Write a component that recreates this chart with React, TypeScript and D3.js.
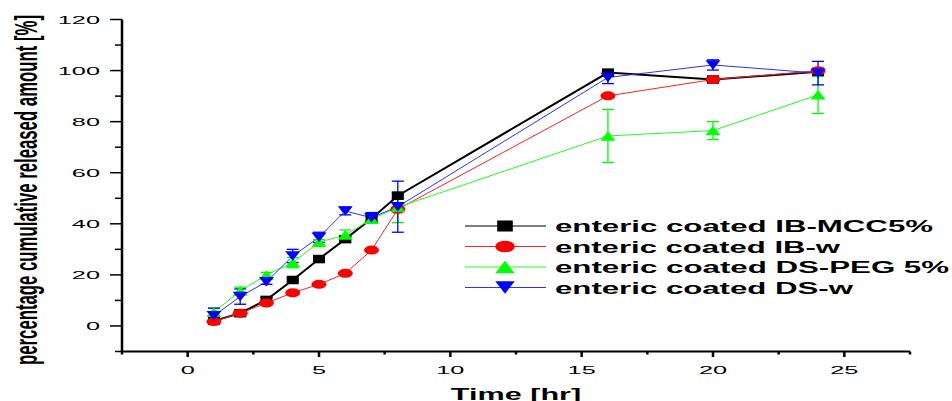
import React from "react";
import * as d3 from "d3";

const time = [1, 2, 3, 4, 5, 6, 7, 8, 16, 20, 24];
const ibMcc = [2, 5, 10.2, 18, 26.2, 34, 42.1, 51, 99.2, 96.5, 99.5];
const ibMccErr = [0.5, 0.5, 1, 0.5, 0.5, 1, 1, 1, 0.5, 0.5, 0.5];
const ibW = [1.7, 5, 9, 13, 16.3, 20.6, 29.7, 45.7, 90.1, 96.5, 99.9];
const ibWErr = [1, 1, 0.5, 0.3, 0.3, 0.3, 0.3, 1, 0.3, 0.5, 0.5];
const dsPeg = [5.4, 13.7, 20, 24.8, 32.8, 35.6, 41.8, 46.5, 74.4, 76.5, 90.5];
const dsPegErr = [1.5, 1.5, 1, 2, 1, 2, 1, 6, 10.4, 3.5, 7.3];
const dsW = [4, 11.5, 17.3, 27.4, 34.7, 45, 42.4, 46.7, 97.3, 102.2, 99];
const dsWErr = [3, 3, 1, 2.6, 2, 1.5, 2, 10, 2.4, 2, 4.6];

const seriesNames = [
  "enteric coated IB-MCC5%",
  "enteric coated IB-w",
  "enteric coated DS-PEG 5%",
  "enteric coated DS-w",
];
const xMajor = [0, 5, 10, 15, 20, 25];
const xMinor = [-2.5, 2.5, 7.5, 12.5, 17.5, 22.5, 27.5];
const yMajor = [0, 20, 40, 60, 80, 100, 120];
const yMinor = [-10, 10, 30, 50, 70, 90, 110];

const FONT = "'Liberation Sans', Arial, sans-serif";

type Shape = "square" | "circle" | "up" | "down";

const series = [
  { name: seriesNames[0], values: ibMcc, err: ibMccErr, color: "#000000", lineColor: "#000000", lw: 2, shape: "square" as Shape },
  { name: seriesNames[1], values: ibW, err: ibWErr, color: "#ff0000", lineColor: "#ff2020", lw: 1, shape: "circle" as Shape },
  { name: seriesNames[2], values: dsPeg, err: dsPegErr, color: "#00ff00", lineColor: "#20ff20", lw: 1, shape: "up" as Shape },
  { name: seriesNames[3], values: dsW, err: dsWErr, color: "#0000ff", lineColor: "#3030ff", lw: 1, shape: "down" as Shape },
];

function Marker({ shape, cx, cy, color, big }: { shape: Shape; cx: number; cy: number; color: string; big?: boolean }) {
  const k = big ? 1.3 : 1;
  if (shape === "square") {
    const w = 12 * k, h = 8.5 * k;
    return <rect x={cx - w / 2} y={cy - h / 2} width={w} height={h} fill={color} />;
  }
  if (shape === "circle") {
    return <ellipse cx={cx} cy={cy} rx={7.5 * k} ry={4.5 * k} fill={color} />;
  }
  const w = 15 * k, h = 9.5 * k;
  if (shape === "up") {
    return <path d={`M${cx - w / 2},${cy + h / 2}L${cx + w / 2},${cy + h / 2}L${cx},${cy - h / 2}Z`} fill={color} />;
  }
  return <path d={`M${cx - w / 2},${cy - h / 2}L${cx + w / 2},${cy - h / 2}L${cx},${cy + h / 2}Z`} fill={color} />;
}

export default function App() {
  const x = d3.scaleLinear().domain([-2.5, 27.5]).range([122, 910]);
  const y = d3.scaleLinear().domain([-10, 120]).range([351.5, 19.5]);
  const line = d3
    .line<number>()
    .x((_, i) => x(time[i]))
    .y((d) => y(d));

  const tickScale = 2.2;
  const legendX = 465;
  const legendY = [226, 246.5, 267, 287.5];
  const legendLens = [378, 285, 394, 298];

  return (
    <svg width={952} height={401} style={{ position: "absolute", left: 0, top: 0, background: "#fff" }}>
      <rect width={952} height={401} fill="#fff" />
      {/* series lines */}
      {series.map((s) => (
        <path key={s.name + "l"} d={line(s.values) || ""} fill="none" stroke={s.lineColor} strokeWidth={s.lw} />
      ))}
      {/* error bars */}
      {series.map((s) =>
        s.values.map((v, i) => {
          const cx = x(time[i]);
          const y1 = y(v + s.err[i]);
          const y2 = y(v - s.err[i]);
          return (
            <g key={s.name + "e" + i} stroke={s.color} strokeWidth={1.3}>
              <line x1={cx} x2={cx} y1={y1} y2={y2} />
              <line x1={cx - 6} x2={cx + 6} y1={y1} y2={y1} />
              <line x1={cx - 6} x2={cx + 6} y1={y2} y2={y2} />
            </g>
          );
        })
      )}
      {/* markers */}
      {series.map((s) =>
        s.values.map((v, i) => (
          <Marker key={s.name + "m" + i} shape={s.shape} cx={x(time[i])} cy={y(v)} color={s.color} />
        ))
      )}

      {/* axes */}
      <line x1={122} x2={122} y1={y(120)} y2={y(-10)} stroke="#000" strokeWidth={2.5} />
      <line x1={122} x2={x(27.5)} y1={351.5} y2={351.5} stroke="#000" strokeWidth={2} />
      {yMajor.map((v) => (
        <line key={"ym" + v} x1={110} x2={122} y1={y(v)} y2={y(v)} stroke="#000" strokeWidth={1.5} />
      ))}
      {yMinor.map((v) => (
        <line key={"yn" + v} x1={115} x2={122} y1={y(v)} y2={y(v)} stroke="#000" strokeWidth={1.5} />
      ))}
      {xMajor.map((v) => (
        <line key={"xm" + v} x1={x(v)} x2={x(v)} y1={351.5} y2={357} stroke="#000" strokeWidth={2.5} />
      ))}
      {xMinor.map((v) => (
        <line key={"xn" + v} x1={x(v)} x2={x(v)} y1={351.5} y2={354.5} stroke="#000" strokeWidth={2.5} />
      ))}
      {yMajor.map((v) => (
        <text
          key={"yt" + v}
          transform={`translate(100,${y(v) + 4.2}) scale(${tickScale},1)`}
          textAnchor="end"
          fontFamily={FONT}
          fontSize={11.5}
          fill="#000"
        >
          {v}
        </text>
      ))}
      {xMajor.map((v) => (
        <text
          key={"xt" + v}
          transform={`translate(${x(v)},373.5) scale(${tickScale},1)`}
          textAnchor="middle"
          fontFamily={FONT}
          fontSize={11.5}
          fill="#000"
        >
          {v}
        </text>
      ))}

      {/* axis titles */}
      <text
        transform={`translate(37,190) rotate(-90) scale(1,1.9)`}
        textAnchor="middle"
        fontFamily={FONT}
        fontSize={17}
        fontWeight="bold"
        textLength={350}
        lengthAdjust="spacingAndGlyphs"
        fill="#000"
      >
        percentage cumulative released amount [%]
      </text>
      <text
        transform={`translate(516,400) scale(1.8,1)`}
        textAnchor="middle"
        fontFamily={FONT}
        fontSize={17}
        fontWeight="bold"
        fill="#000"
      >
        Time [hr]
      </text>

      {/* legend */}
      {series.map((s, i) => (
        <g key={s.name + "lg"}>
          <line x1={legendX} x2={legendX + 81} y1={legendY[i]} y2={legendY[i]} stroke={s.lineColor} strokeWidth={1} />
          <Marker shape={s.shape} cx={legendX + 40} cy={legendY[i]} color={s.color} big />
          <text
            transform={`translate(555,${legendY[i] + 6}) scale(1.95,1)`}
            fontFamily={FONT}
            fontSize={16}
            fontWeight="bold"
            textLength={legendLens[i] / 1.95}
            lengthAdjust="spacingAndGlyphs"
            fill="#000"
          >
            {s.name}
          </text>
        </g>
      ))}
    </svg>
  );
}
